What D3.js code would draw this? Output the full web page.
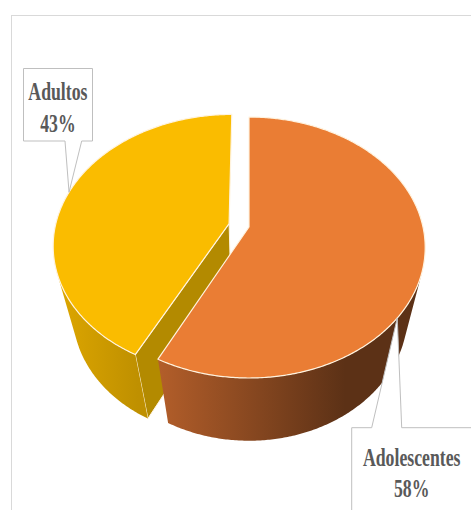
<!DOCTYPE html>
<html>
<head>
<meta charset="utf-8">
<script src="https://cdn.jsdelivr.net/npm/d3@7"></script>
<style>
  html, body { margin: 0; padding: 0; background: #fff; }
  svg { display: block; }
</style>
</head>
<body>
<script>
// Category names and their percentages
const categories = ["Adolescentes", "Adultos"];
const values = [58, 43];
const percentLabels = values.map(v => v + "%");

const W = 471, H = 510;
const svg = d3.select("body").append("svg").attr("width", W).attr("height", H);

// chart frame
svg.append("rect")
  .attr("x", 11.5).attr("y", 15.5)
  .attr("width", 480).attr("height", 520)
  .attr("fill", "none").attr("stroke", "#d9d9d9").attr("stroke-width", 1);

// perspective view of a unit-radius disc
const view = { cx: 249, cy: 227, S: 174, elev: 47 * Math.PI / 180, dist: 4.34, depth: 0.64 };
const sinE = Math.sin(view.elev), cosE = Math.cos(view.elev);
const camera = [0, view.dist * sinE, view.dist * cosE];

function project(p) {
  const [x, y, z] = p;
  const v = z * sinE - y * cosE;
  const w = z * cosE + y * sinE;
  const s = view.dist / (view.dist - w);
  return [view.cx + view.S * x * s, view.cy + view.S * v * s];
}

const sliceStyle = {
  "Adolescentes": { top: "#ea7d34", wall: ["#b35e2a", "#5c3116"], wallX: [158, 345], face: "#6e3a18", explode: 0 },
  "Adultos":      { top: "#fabc00", wall: ["#dea700", "#bf9000"], wallX: [55, 138],  face: "#b38a00", explode: 0.118 }
};
const edgeColor = "#fff3df";

const data = categories.map((c, i) => ({ name: c, value: values[i], label: percentLabels[i] }));
const pie = d3.pie().sort(null).value(d => d.value).startAngle(0).endAngle(2 * Math.PI);
const arcs = pie(data);

const line = d3.line();
const defs = svg.append("defs");

arcs.forEach((a, i) => {
  const st = sliceStyle[a.data.name];
  const mid = (a.startAngle + a.endAngle) / 2;
  a.offset = [Math.sin(mid) * st.explode, 0, -Math.cos(mid) * st.explode];
  a.style = st;
  a.gid = "wallGrad" + i;
  const g = defs.append("linearGradient").attr("id", a.gid)
    .attr("gradientUnits", "userSpaceOnUse")
    .attr("x1", st.wallX[0]).attr("x2", st.wallX[1]).attr("y1", 0).attr("y2", 0);
  g.append("stop").attr("offset", 0).attr("stop-color", st.wall[0]);
  g.append("stop").attr("offset", 1).attr("stop-color", st.wall[1]);
});

function rim(a, theta, y) {
  return [a.offset[0] + Math.sin(theta), y, a.offset[2] - Math.cos(theta)];
}
function facing(n, p) {
  return n[0] * (camera[0] - p[0]) + n[1] * (camera[1] - p[1]) + n[2] * (camera[2] - p[2]);
}
function polyArea(pts) {
  let s = 0;
  for (let k = 0; k < pts.length; k++) {
    const [x0, y0] = pts[k], [x1, y1] = pts[(k + 1) % pts.length];
    s += x0 * y1 - x1 * y0;
  }
  return Math.abs(s) / 2;
}

// draw slices from back to front
const order = arcs.slice().sort((p, q) => {
  const zp = -Math.cos((p.startAngle + p.endAngle) / 2);
  const zq = -Math.cos((q.startAngle + q.endAngle) / 2);
  return zp - zq;
});

const pieG = svg.append("g");

order.forEach(a => {
  const g = pieG.append("g");
  const t = -view.depth;
  const c0 = [a.offset[0], 0, a.offset[2]];
  const c1 = [a.offset[0], t, a.offset[2]];

  // radial cut faces (skip those seen almost edge-on)
  [[a.startAngle, -1], [a.endAngle, 1]].forEach(([ang, sgn]) => {
    const n = [sgn * Math.cos(ang), 0, sgn * Math.sin(ang)];
    if (facing(n, c0) > 1e-6) {
      const pts = [c0, rim(a, ang, 0), rim(a, ang, t), c1].map(project);
      if (polyArea(pts) < 400) return;
      g.append("path").attr("d", line(pts) + "Z")
        .attr("fill", a.style.face)
        .attr("stroke", edgeColor).attr("stroke-width", 1).attr("stroke-linejoin", "round");
    }
  });

  // outer wall, only the part turned to the viewer
  const steps = Math.ceil((a.endAngle - a.startAngle) / 0.01);
  const vis = [];
  for (let k = 0; k <= steps; k++) {
    const th = a.startAngle + (a.endAngle - a.startAngle) * k / steps;
    const p = rim(a, th, 0);
    const n = [Math.sin(th), 0, -Math.cos(th)];
    if (facing(n, p) > 0) vis.push(th);
  }
  if (vis.length > 1) {
    const topPts = vis.map(th => project(rim(a, th, 0)));
    const botPts = vis.slice().reverse().map(th => project(rim(a, th, t)));
    g.append("path").attr("d", line(topPts.concat(botPts)) + "Z")
      .attr("fill", `url(#${a.gid})`);
  }

  // top face
  const topRim = [];
  for (let k = 0; k <= steps; k++) {
    const th = a.startAngle + (a.endAngle - a.startAngle) * k / steps;
    topRim.push(project(rim(a, th, 0)));
  }
  g.append("path").attr("d", line([project(c0)].concat(topRim)) + "Z")
    .attr("fill", a.style.top)
    .attr("stroke", edgeColor).attr("stroke-width", 1.2).attr("stroke-linejoin", "round");
});

// callout labels
const callouts = {
  "Adultos": { box: [23.5, 68.5, 92.5, 141], side: "bottom", base: [65, 81.7], anchor: 285, cx: 57.9, lines: [100, 131.7] },
  "Adolescentes": { box: [351.7, 427.7, 472, 520], side: "top", base: [371.7, 401.7], anchor: 130, cx: 411.7, lines: [465.7, 496.7] }
};

const labelG = svg.append("g");
arcs.forEach(a => {
  const c = callouts[a.data.name];
  const tip = project(rim(a, c.anchor * Math.PI / 180, 0));
  const [x0, y0, x1, y1] = c.box;
  let d;
  if (c.side === "bottom") {
    d = `M${x0},${y0}H${x1}V${y1}H${c.base[1]}L${tip[0]},${tip[1]}L${c.base[0]},${y1}H${x0}Z`;
  } else {
    d = `M${x0},${y0}H${c.base[0]}L${tip[0]},${tip[1]}L${c.base[1]},${y0}H${x1}V${y1}H${x0}Z`;
  }
  labelG.append("path").attr("d", d)
    .attr("fill", "#fff").attr("stroke", "#bfbfbf").attr("stroke-width", 1);

  [a.data.name, a.data.label].forEach((txt, j) => {
    labelG.append("g")
      .attr("transform", `translate(${c.cx},${c.lines[j]}) scale(0.71,1)`)
      .append("text")
      .attr("text-anchor", "middle")
      .attr("font-family", "'Times New Roman', 'Liberation Serif', serif")
      .attr("font-weight", "bold")
      .attr("font-size", 25)
      .attr("fill", "#595959")
      .text(txt);
  });
});
</script>
</body>
</html>
